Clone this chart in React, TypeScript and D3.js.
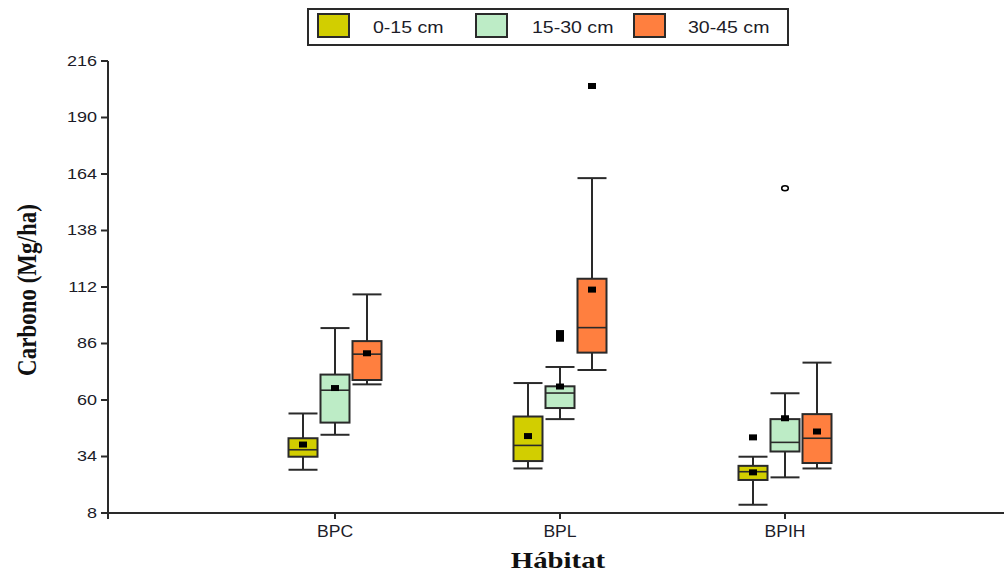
import React from 'react';
import * as d3 from 'd3';

const categories = ['BPC', 'BPL', 'BPIH'];
const series = ['0-15 cm', '15-30 cm', '30-45 cm'];
const seriesColors = ['#d2ce00', '#bdecc6', '#ff7f3f'];
const yTicks = [8, 34, 60, 86, 112, 138, 164, 190, 216];

// rows = series, columns = categories
const lowerWhisker = [[27.9, 28.5, 11.8], [44.0, 51.2, 24.4], [67.2, 73.8, 28.5]];
const q1 = [[33.9, 31.9, 23.2], [49.6, 56.3, 36.3], [69.2, 81.8, 31.0]];
const median = [[37.1, 39.1, 27.0], [64.5, 63.2, 40.5], [81.1, 93.3, 42.4]];
const q3 = [[42.4, 52.4, 29.7], [71.7, 66.3, 51.2], [87.1, 115.8, 53.5]];
const upperWhisker = [[53.8, 67.8, 33.9], [93.1, 75.2, 63.1], [108.6, 162.1, 77.2]];
const means = [[39.5, 43.4, 26.7], [65.5, 66.2, 51.6], [81.5, 110.8, 45.5]];

const outlierSeries = [0, 1, 1, 2, 1];
const outlierCategory = [2, 1, 1, 1, 2];
const outlierValues = [42.8, 90.8, 88.2, 204.5, 157.5];
const outlierOpen = [false, false, false, false, true];

const W = 1004;
const H = 572;
const SX = 1.2;
const INK = '#2a2a2a';
const SANS = '"Liberation Sans", Arial, sans-serif';
const SERIF = '"Liberation Serif", "Times New Roman", serif';

export default function App() {
  const y = d3.scaleLinear().domain([8, 216]).range([513, 61]);
  const x = d3.scalePoint<string>().domain(['_a', ...categories, '_b']).range([110, 1010]);
  const off = d3.scaleBand<string>().domain(series).range([-48, 48]);
  const boxW = 29;
  const cx = (s: number, c: number) => (x(categories[c]) as number) + (off(series[s]) as number) + off.bandwidth() / 2;

  const axisLeft = 108;
  const axisBottom = y(8);

  const boxes: React.ReactNode[] = [];
  series.forEach((_, s) => {
    categories.forEach((__, c) => {
      const xc = cx(s, c);
      const x0 = xc - boxW / 2;
      const x1 = xc + boxW / 2;
      boxes.push(
        <g key={`b${s}-${c}`}>
          <line x1={xc} x2={xc} y1={y(upperWhisker[s][c])} y2={y(q3[s][c])} stroke={INK} strokeWidth={2} />
          <line x1={xc} x2={xc} y1={y(q1[s][c])} y2={y(lowerWhisker[s][c])} stroke={INK} strokeWidth={2} />
          <line x1={x0} x2={x1} y1={y(upperWhisker[s][c])} y2={y(upperWhisker[s][c])} stroke={INK} strokeWidth={2} />
          <line x1={x0} x2={x1} y1={y(lowerWhisker[s][c])} y2={y(lowerWhisker[s][c])} stroke={INK} strokeWidth={2} />
          <rect x={x0} y={y(q3[s][c])} width={boxW} height={y(q1[s][c]) - y(q3[s][c])} fill={seriesColors[s]} stroke={INK} strokeWidth={2} />
          <line x1={x0} x2={x1} y1={y(median[s][c])} y2={y(median[s][c])} stroke={INK} strokeWidth={1.6} />
          <rect x={xc - 4} y={y(means[s][c]) - 3} width={8} height={6} fill="#000" />
        </g>
      );
    });
  });

  const outliers = outlierValues.map((v, i) => {
    const xc = cx(outlierSeries[i], outlierCategory[i]);
    const yy = y(v);
    if (outlierOpen[i]) {
      return <ellipse key={`o${i}`} cx={xc} cy={yy} rx={3.3} ry={2.5} fill="#fff" stroke="#000" strokeWidth={1.5} />;
    }
    return <rect key={`o${i}`} x={xc - 4} y={yy - 3} width={8} height={6} fill="#000" />;
  });

  const legendX = [318, 476, 634];
  const legendTextX = [373, 532, 688];

  return (
    <svg width={W} height={H} style={{ position: 'absolute', left: 0, top: 0, background: '#fff' }}>
      <rect x={0} y={0} width={W} height={H} fill="#fff" />
      {/* y axis */}
      <line x1={axisLeft} x2={axisLeft} y1={y(216)} y2={axisBottom} stroke={INK} strokeWidth={2} />
      {yTicks.map((t) => (
        <g key={`yt${t}`}>
          <line x1={axisLeft - 7} x2={axisLeft} y1={y(t)} y2={y(t)} stroke={INK} strokeWidth={2} />
          <text transform={`translate(${axisLeft - 11},${y(t)}) scale(${SX},1)`} textAnchor="end" dominantBaseline="central" fontFamily={SANS} fontSize={15} fill="#1c1c28">
            {t}
          </text>
        </g>
      ))}
      {/* x axis */}
      <line x1={axisLeft - 7} x2={W} y1={axisBottom} y2={axisBottom} stroke={INK} strokeWidth={2} />
      <line x1={axisLeft} x2={axisLeft} y1={axisBottom} y2={axisBottom + 6} stroke={INK} strokeWidth={2} />
      {categories.map((c) => (
        <g key={`xt${c}`}>
          <line x1={x(c) as number} x2={x(c) as number} y1={axisBottom} y2={axisBottom + 6} stroke={INK} strokeWidth={2} />
          <text transform={`translate(${x(c)},${axisBottom + 24}) scale(1.1,1)`} textAnchor="middle" fontFamily={SANS} fontSize={16} fill="#1c1c28">
            {c}
          </text>
        </g>
      ))}
      <text transform={`translate(558,568) scale(${SX},1)`} textAnchor="middle" fontFamily={SERIF} fontWeight="bold" fontSize={24} fill="#111">
        Hábitat
      </text>
      <text transform={`translate(36,290) scale(${SX},1) rotate(-90)`} textAnchor="middle" fontFamily={SERIF} fontWeight="bold" fontSize={23} fill="#111">
        Carbono (Mg/ha)
      </text>
      {boxes}
      {outliers}
      {/* legend */}
      <rect x={308} y={9} width={480} height={36} fill="#fff" stroke={INK} strokeWidth={2} />
      {series.map((s, i) => (
        <g key={`lg${s}`}>
          <rect x={legendX[i]} y={14} width={31} height={23} fill={seriesColors[i]} stroke={INK} strokeWidth={2} />
          <text transform={`translate(${legendTextX[i]},33) scale(1.15,1)`} fontFamily={SANS} fontSize={17} fill="#1c1c28">
            {s}
          </text>
        </g>
      ))}
    </svg>
  );
}
